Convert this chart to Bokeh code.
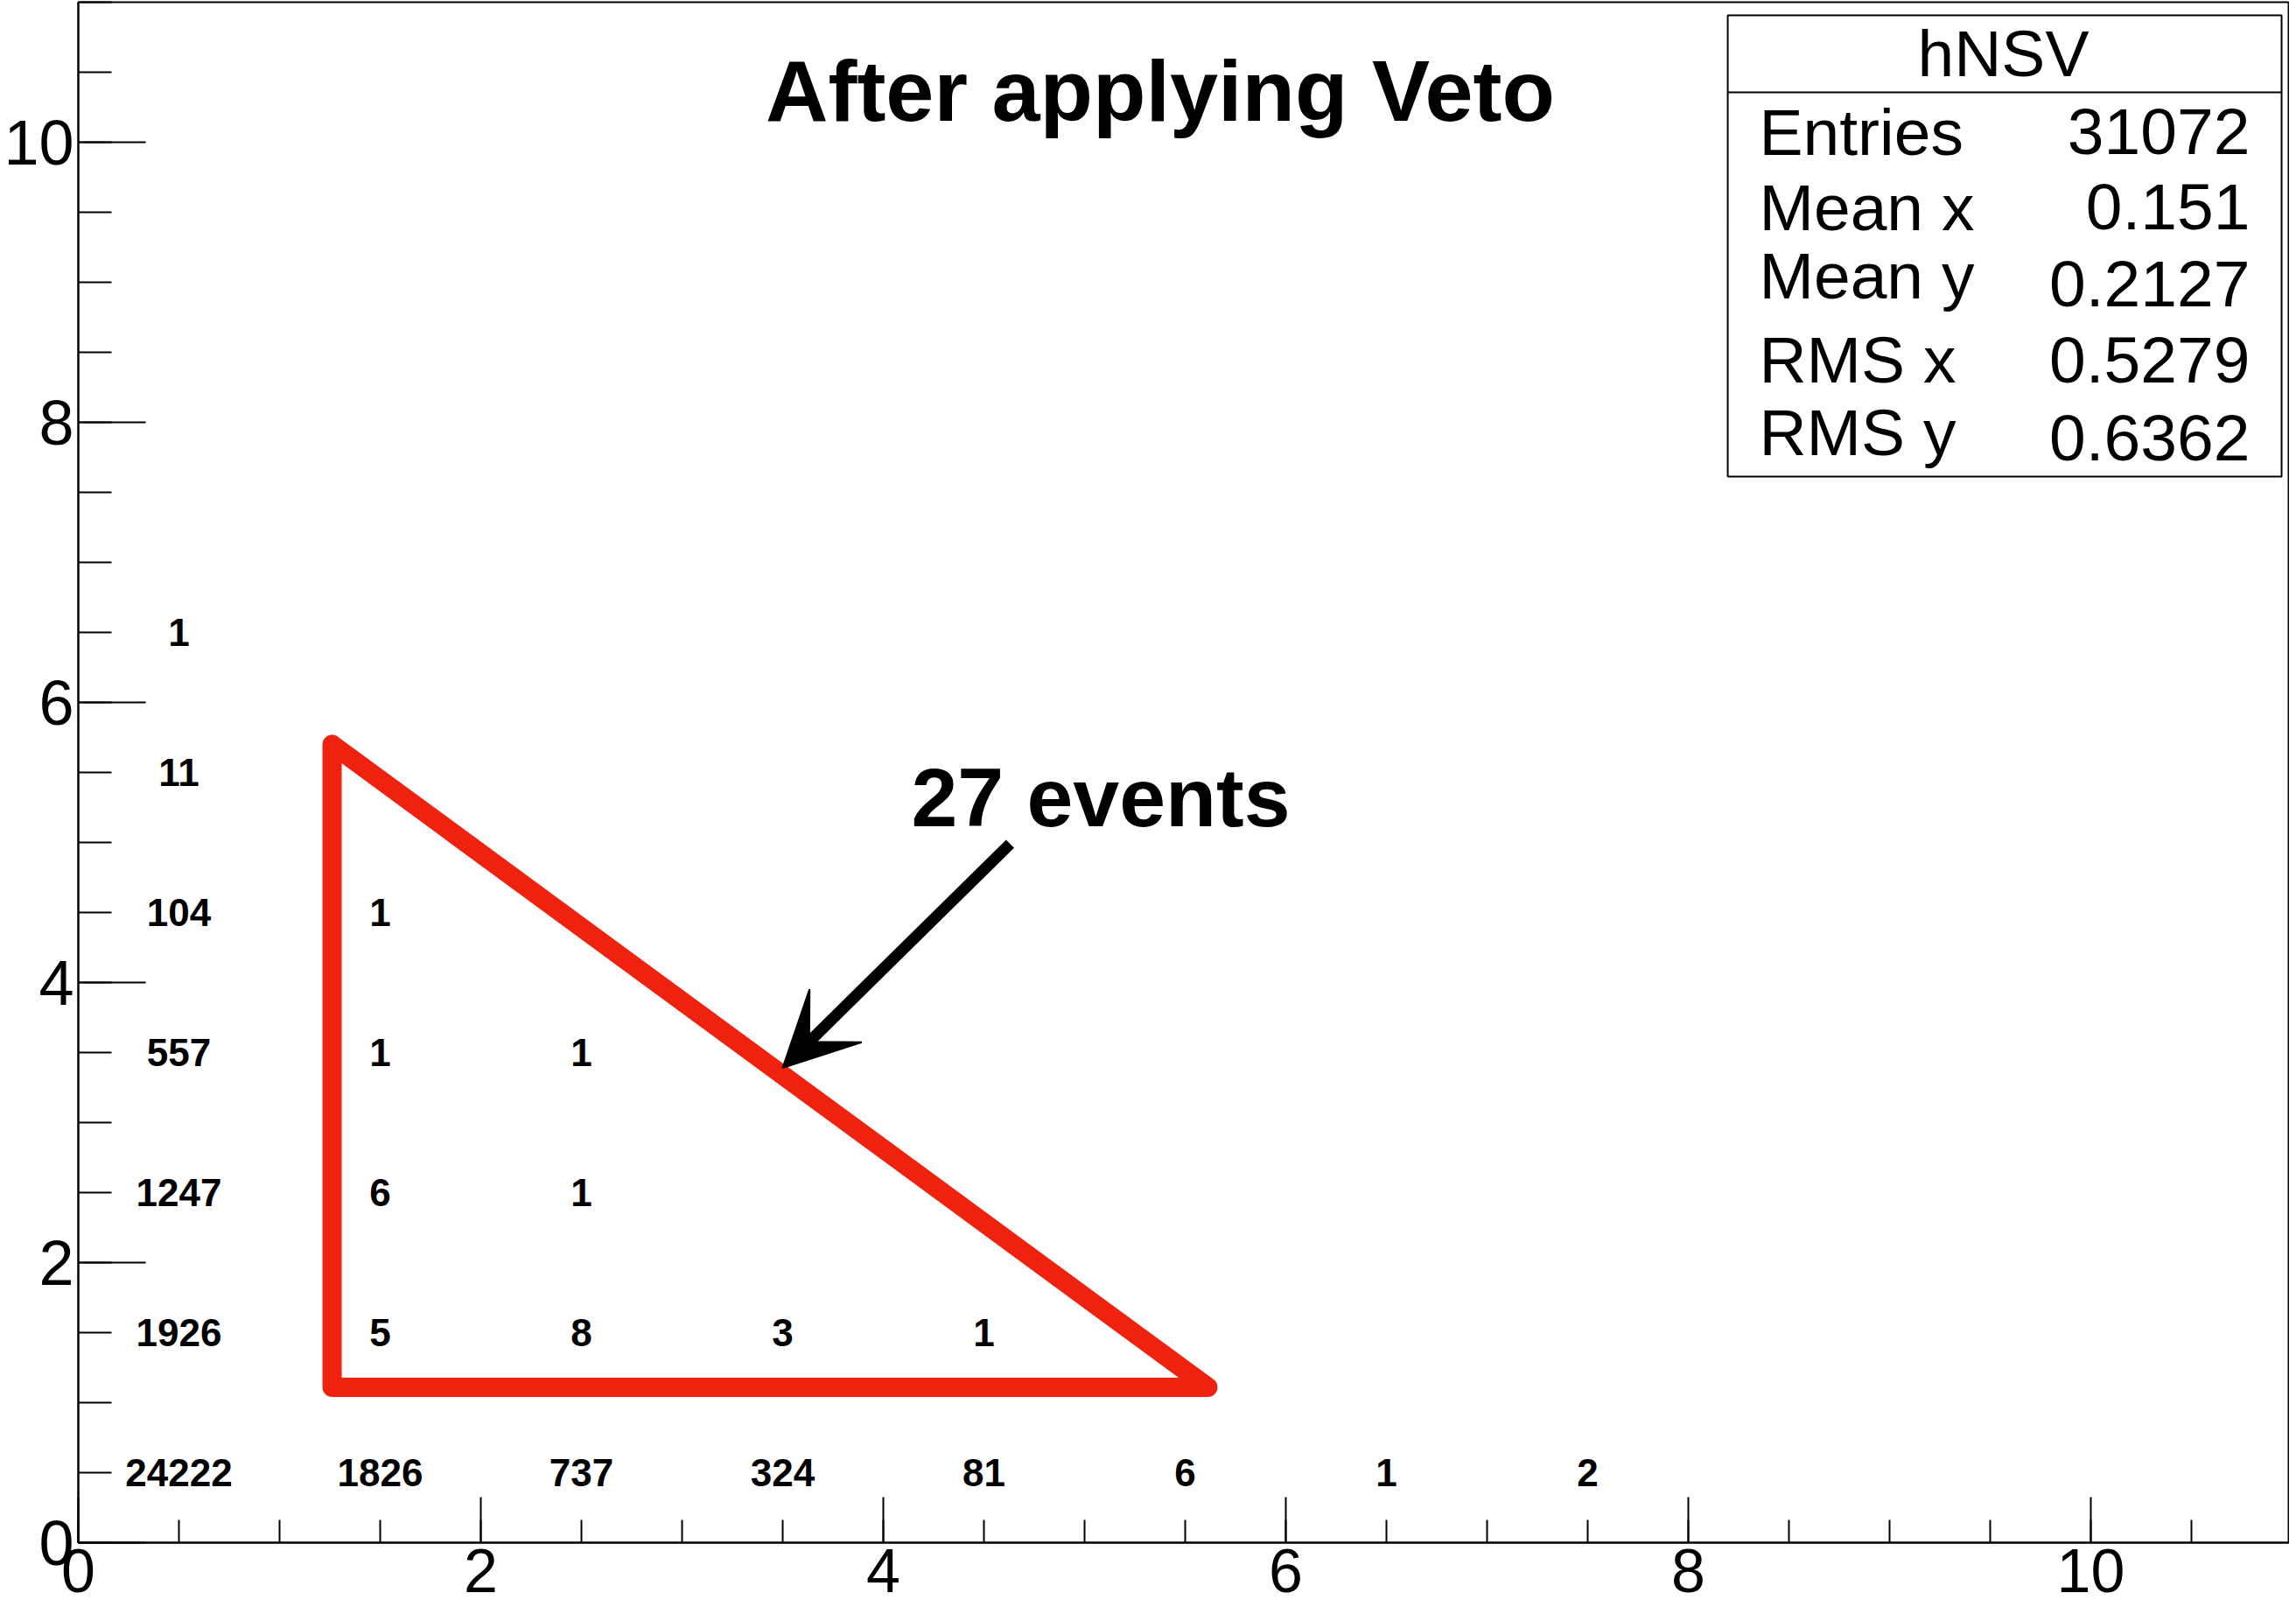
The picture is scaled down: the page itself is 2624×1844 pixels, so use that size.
from bokeh.plotting import figure
from bokeh.models import Range1d, FixedTicker, Arrow, VeeHead
from bokeh.core.properties import value
from bokeh.embed import file_html
from bokeh.resources import INLINE

# ---- histogram bin contents (TH2 drawn with TEXT) ----
bin_x = [0.5, 1.5, 2.5, 3.5, 4.5, 5.5, 6.5, 7.5,
         0.5, 1.5, 2.5, 3.5, 4.5,
         0.5, 1.5, 2.5,
         0.5, 1.5, 2.5,
         0.5, 1.5,
         0.5,
         0.5]
bin_y = [0.5, 0.5, 0.5, 0.5, 0.5, 0.5, 0.5, 0.5,
         1.5, 1.5, 1.5, 1.5, 1.5,
         2.5, 2.5, 2.5,
         3.5, 3.5, 3.5,
         4.5, 4.5,
         5.5,
         6.5]
bin_counts = [24222, 1826, 737, 324, 81, 6, 1, 2,
              1926, 5, 8, 3, 1,
              1247, 6, 1,
              557, 1, 1,
              104, 1,
              11,
              1]

# ---- axes ----
x_major_ticks = [0, 2, 4, 6, 8, 10]
y_major_ticks = [0, 2, 4, 6, 8, 10]
minor_ticks = [0.5 * i for i in range(0, 23)]

# ---- statistics box ----
stats_title = "hNSV"
stat_names = ["Entries", "Mean x", "Mean y", "RMS x", "RMS y"]
stat_values = ["31072", "0.151", "0.2127", "0.5279", "0.6362"]

# ---- annotations ----
title_text = "After applying Veto"
note_text = "27 events"
triangle_x = [1.261, 1.261, 5.613, 1.261]
triangle_y = [5.70, 1.11, 1.11, 5.70]
arrow_start = (4.63, 4.99)
arrow_end = (3.50, 3.39)

FONT = "Liberation Sans"
RED = "#EE220F"

p = figure(width=2616, height=1836, output_backend="svg", toolbar_location=None,
           x_range=Range1d(0, 10.987), y_range=Range1d(0, 11),
           min_border_left=89, min_border_right=0, min_border_top=2,
           min_border_bottom=74)
p.background_fill_color = "white"
p.border_fill_color = "white"
p.outline_line_color = "black"
p.outline_line_width = 2
p.xgrid.visible = False
p.ygrid.visible = False

p.xaxis.ticker = FixedTicker(ticks=x_major_ticks, minor_ticks=minor_ticks)
p.yaxis.ticker = FixedTicker(ticks=y_major_ticks, minor_ticks=minor_ticks)
for ax, maj, mnr, so in ((p.xaxis, 52, 26, 7), (p.yaxis, 77, 38, 5)):
    ax.axis_line_color = "black"
    ax.axis_line_width = 2
    ax.major_tick_in = maj
    ax.major_tick_out = 0
    ax.minor_tick_in = mnr
    ax.minor_tick_out = 0
    ax.major_tick_line_color = "black"
    ax.minor_tick_line_color = "black"
    ax.major_tick_line_width = 2
    ax.minor_tick_line_width = 2
    ax.major_label_text_font = FONT
    ax.major_label_text_color = "black"
    ax.major_label_standoff = so
p.yaxis.major_label_text_font_size = "72px"
p.xaxis.major_label_text_font_size = "70px"
p.xaxis.major_label_text_line_height = 0.85

# bin contents
p.text(x=bin_x, y=bin_y, text=[str(c) for c in bin_counts],
       text_font=value(FONT), text_font_style="bold", text_font_size="44px",
       text_align="center", text_baseline="middle", text_color="black")

# hand-drawn red triangle
p.line(x=triangle_x, y=triangle_y, line_color=RED, line_width=22,
       line_join="round", line_cap="round")

# arrow
p.add_layout(Arrow(end=VeeHead(size=85, fill_color="black", line_color="black", line_width=2),
                   x_start=arrow_start[0], y_start=arrow_start[1],
                   x_end=arrow_end[0], y_end=arrow_end[1],
                   line_color="black", line_width=13))

# title and note
p.text(x=[5.376], y=[10.369], text=[title_text], text_font=value(FONT),
       text_font_style="bold", text_font_size="99px", text_align="center",
       text_baseline="middle", text_color="black")
p.text(x=[4.139], y=[5.325], text=[note_text], text_font=value(FONT),
       text_font_style="bold", text_font_size="95px", text_align="left",
       text_baseline="middle", text_color="black")

# statistics box
p.quad(left=[8.196], right=[10.948], top=[10.906], bottom=[7.6125],
       fill_color="white", line_color="black", line_width=2)
p.segment(x0=[8.196], x1=[10.948], y0=[10.356], y1=[10.356],
          line_color="black", line_width=2)
p.text(x=[9.565], y=[10.634], text=[stats_title], text_font=value(FONT),
       text_font_size="75px", text_align="center", text_baseline="middle",
       text_color="black")
label_y = [10.075, 9.5375, 9.044, 8.444, 7.931]
value_y = [10.075, 9.5375, 8.9875, 8.444, 7.8875]
p.text(x=[8.352] * len(stat_names), y=label_y, text=stat_names, text_font=value(FONT),
       text_font_size="75px", text_align="left", text_baseline="middle",
       text_color="black")
p.text(x=[10.791] * len(stat_values), y=value_y, text=stat_values, text_font=value(FONT),
       text_font_size="75px", text_align="right", text_baseline="middle",
       text_color="black")

open("out.html", "w").write(file_html(p, INLINE))
